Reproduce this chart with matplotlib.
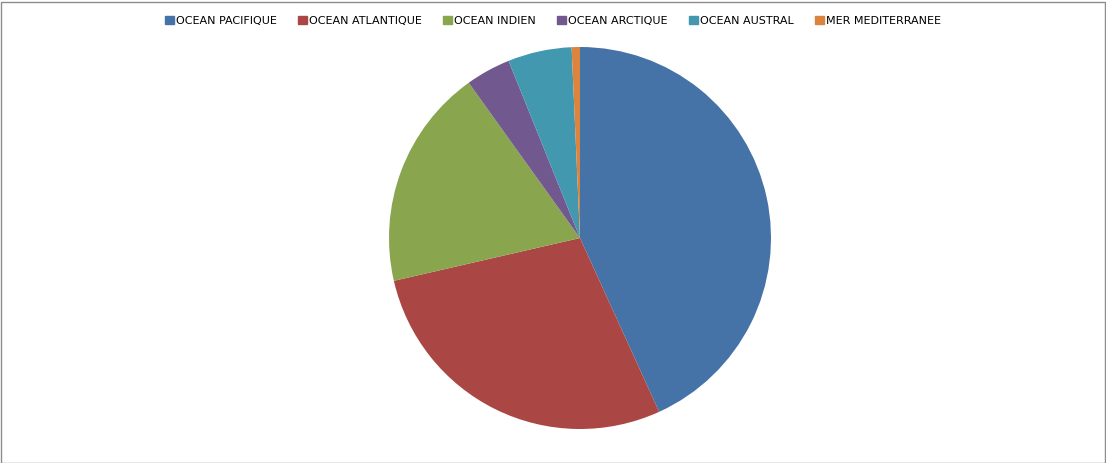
import matplotlib
matplotlib.use("Agg")
import matplotlib.pyplot as plt
from matplotlib.patches import Rectangle

# Data (share of total)
labels = ["OCEAN PACIFIQUE", "OCEAN ATLANTIQUE", "OCEAN INDIEN",
          "OCEAN ARCTIQUE", "OCEAN AUSTRAL", "MER MEDITERRANEE"]
values = [43.2, 28.2, 18.7, 3.8, 5.4, 0.7]
colors = ["#4572A7", "#AA4643", "#89A54E", "#71588F", "#4198AF", "#DB843D"]

W, H = 1106, 463
fig = plt.figure(figsize=(W / 100, H / 100), dpi=100)
fig.patches.append(Rectangle((0.5 / W, 0.5 / H), 1 - 2 / W, 1 - 2 / H,
                             transform=fig.transFigure, fill=False,
                             edgecolor="#8c8c8c", linewidth=1))

cx, cy, r = 580, 238, 191
ax = fig.add_axes([(cx - r) / W, (H - cy - r) / H, 2 * r / W, 2 * r / H])
wedges, _ = ax.pie(values, colors=colors, startangle=90, counterclock=False,
                   wedgeprops=dict(linewidth=0))
ax.set_xlim(-1, 1)
ax.set_ylim(-1, 1)
ax.set_aspect("equal")

handles = [Rectangle((0, 0), 1, 1, color=c) for c in colors]
fig.legend(handles, labels, loc="center", bbox_to_anchor=(553 / W, 1 - 21 / H),
           ncol=6, frameon=False, fontsize=8, handlelength=0.8, handleheight=0.8,
           handletextpad=0.2, columnspacing=1.9)

fig.savefig("out.png", dpi=100)
